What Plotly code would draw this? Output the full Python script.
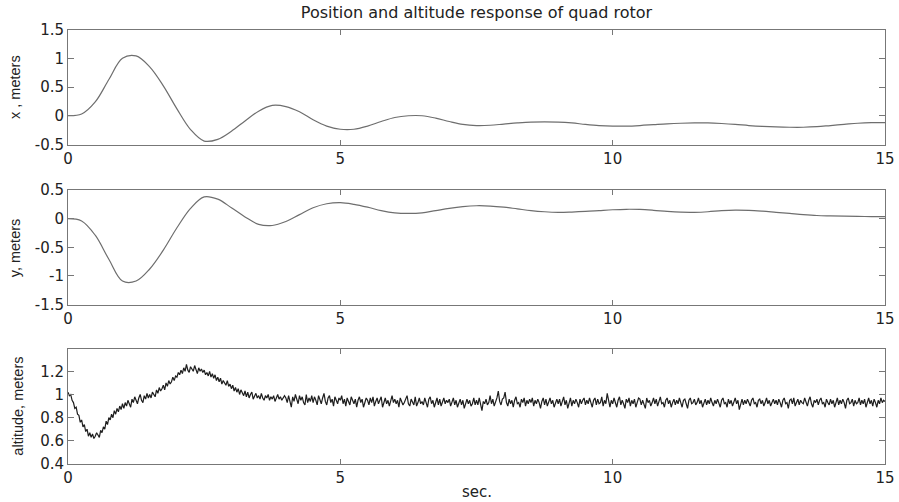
import plotly.graph_objects as go

# ---------------- data ----------------
t_smooth = [i * 0.25 for i in range(61)]

x_pos = [0.00, 0.03, 0.24, 0.63, 1.00, 1.04, 0.85, 0.52, 0.12, -0.24,
         -0.44, -0.41, -0.27, -0.09, 0.08, 0.18, 0.16, 0.07, -0.07, -0.18,
         -0.235, -0.235, -0.18, -0.10, -0.03, 0.00, 0.00, -0.04, -0.10, -0.15,
         -0.17, -0.165, -0.145, -0.125, -0.11, -0.105, -0.11, -0.125, -0.15, -0.17,
         -0.18, -0.18, -0.17, -0.155, -0.14, -0.13, -0.125, -0.125, -0.135, -0.15,
         -0.17, -0.185, -0.195, -0.20, -0.20, -0.19, -0.17, -0.15, -0.13, -0.12,
         -0.12]

y_pos = [0.00, -0.04, -0.29, -0.71, -1.09, -1.09, -0.88, -0.55, -0.16, 0.18,
         0.38, 0.34, 0.19, 0.03, -0.10, -0.12, -0.05, 0.07, 0.19, 0.26,
         0.28, 0.25, 0.20, 0.14, 0.10, 0.09, 0.10, 0.14, 0.18, 0.21,
         0.225, 0.22, 0.20, 0.17, 0.14, 0.12, 0.11, 0.115, 0.125, 0.14,
         0.155, 0.163, 0.16, 0.145, 0.125, 0.112, 0.11, 0.12, 0.14, 0.15,
         0.145, 0.13, 0.11, 0.09, 0.07, 0.055, 0.048, 0.042, 0.038, 0.036,
         0.035]

altitude = [
    1.02, 0.99, 1.00, 0.95, 0.93, 0.88, 0.89, 0.83, 0.82, 0.76, 0.78, 0.72, 0.74, 0.68, 0.70, 0.64, 0.67, 0.63, 0.66, 0.62,
    0.64, 0.67, 0.65, 0.63, 0.69, 0.67, 0.72, 0.70, 0.77, 0.74, 0.80, 0.78, 0.83, 0.80, 0.86, 0.83, 0.88, 0.85, 0.90, 0.87,
    0.92, 0.88, 0.93, 0.90, 0.95, 0.91, 0.89, 0.96, 0.93, 0.98, 0.94, 0.92, 0.97, 1.00, 0.95, 0.93, 0.99, 0.96, 1.01, 0.97,
    1.00, 0.97, 1.02, 1.00, 0.98, 1.04, 1.01, 1.06, 1.03, 1.05, 1.08, 1.04, 1.10, 1.07, 1.12, 1.09, 1.11, 1.15, 1.12, 1.16,
    1.15, 1.19, 1.17, 1.21, 1.18, 1.23, 1.20, 1.26, 1.21, 1.19, 1.24, 1.22, 1.20, 1.25, 1.21, 1.18, 1.23, 1.20, 1.22, 1.19,
    1.21, 1.17, 1.19, 1.16, 1.20, 1.15, 1.18, 1.14, 1.17, 1.12, 1.15, 1.11, 1.14, 1.09, 1.12, 1.10, 1.08, 1.12, 1.07, 1.09,
    1.05, 1.08, 1.03, 1.06, 1.02, 1.05, 1.00, 1.04, 1.01, 0.99, 1.03, 0.98, 1.02, 0.97, 1.00, 1.02, 0.96, 0.99, 1.01, 0.97,
    0.99, 0.96, 1.01, 0.97, 0.95, 0.99, 0.97, 1.00, 0.95, 0.98, 0.96, 0.99, 0.94, 0.97, 1.00, 0.96, 0.98, 0.95, 0.97, 0.99,
    0.97, 0.93, 0.99, 0.95, 0.89, 0.98, 0.94, 1.00, 0.96, 0.92, 0.99, 0.95, 0.98, 0.93, 0.91, 1.00, 0.93, 0.97, 0.94, 0.99,
    0.93, 0.98, 0.95, 0.91, 0.99, 0.96, 0.92, 0.97, 1.01, 0.94, 0.91, 0.97, 0.99, 0.93, 0.96, 0.90, 0.98, 0.95, 0.92, 0.97,
    0.95, 0.99, 0.92, 0.96, 0.90, 0.97, 0.93, 0.91, 0.98, 0.94, 0.92, 0.96, 0.89, 0.95, 0.98, 0.93, 0.96, 0.89, 0.94, 0.97,
    0.95, 0.91, 0.97, 0.93, 0.98, 0.90, 0.94, 0.97, 0.92, 0.96, 0.98, 0.89, 0.94, 0.97, 0.92, 0.95, 0.90, 0.94, 0.99, 0.93,
    0.96, 0.92, 0.95, 0.89, 0.97, 0.94, 0.91, 0.93, 0.97, 0.99, 0.92, 0.90, 0.96, 0.94, 0.91, 0.98, 0.90, 0.93, 0.97, 0.92,
    0.94, 0.91, 0.97, 0.93, 0.89, 0.96, 0.98, 0.92, 0.95, 0.89, 0.94, 0.97, 0.91, 0.96, 0.90, 0.94, 0.97, 0.92, 0.95, 0.93,
    0.96, 0.90, 0.93, 0.97, 0.91, 0.95, 0.89, 0.93, 0.96, 0.91, 0.95, 0.88, 0.93, 0.96, 0.92, 0.95, 0.90, 0.92, 0.97, 0.91,
    0.95, 0.91, 0.97, 0.92, 0.86, 0.94, 0.92, 0.96, 0.91, 0.93, 0.99, 0.92, 0.96, 0.90, 0.93, 0.97, 1.03, 0.94, 0.91, 0.96,
    0.97, 1.02, 0.93, 0.90, 0.96, 0.92, 0.95, 0.89, 0.95, 0.98, 0.92, 0.93, 0.89, 0.96, 0.93, 0.97, 0.90, 0.95, 0.92, 0.96,
    0.93, 0.97, 0.90, 0.95, 0.92, 0.96, 0.93, 0.88, 0.94, 0.97, 0.91, 0.96, 0.90, 0.93, 0.97, 0.92, 0.95, 0.89, 0.93, 0.96,
    0.92, 0.96, 0.90, 0.94, 0.98, 0.91, 0.95, 0.88, 0.93, 0.97, 0.90, 0.95, 0.92, 0.96, 0.93, 0.89, 0.96, 0.92, 0.95, 0.97,
    0.91, 0.95, 0.92, 0.97, 0.93, 0.89, 0.95, 0.97, 0.91, 0.96, 0.92, 0.93, 0.98, 0.90, 0.95, 0.92, 1.01, 0.93, 0.89, 0.95,
    0.92, 0.97, 0.93, 0.89, 0.95, 0.98, 0.91, 0.95, 0.92, 0.88, 0.96, 0.93, 0.97, 0.90, 0.95, 0.92, 0.96, 0.89, 0.93, 0.97,
    0.96, 0.91, 0.95, 0.92, 0.88, 0.97, 0.93, 0.95, 0.90, 0.93, 0.97, 0.92, 0.96, 0.90, 0.95, 0.98, 0.92, 0.93, 0.89, 0.95,
    0.97, 0.92, 0.95, 0.89, 0.93, 0.96, 0.91, 0.95, 0.92, 0.97, 0.93, 0.89, 0.95, 0.96, 0.92, 0.88, 0.95, 0.97, 0.92, 0.93,
    0.96, 0.91, 0.93, 0.97, 0.92, 0.95, 0.89, 0.93, 0.96, 0.91, 0.95, 0.92, 0.97, 0.93, 0.90, 0.95, 0.92, 0.96, 0.93, 0.89,
    0.95, 0.97, 0.92, 0.93, 0.89, 0.96, 0.92, 0.95, 0.90, 0.93, 0.97, 0.92, 0.95, 0.87, 0.93, 0.96, 0.91, 0.95, 0.92, 0.96,
    0.93, 0.90, 0.95, 0.97, 0.92, 0.93, 0.89, 0.95, 0.96, 0.92, 0.95, 0.90, 0.93, 0.97, 0.92, 0.95, 0.90, 0.93, 0.96, 0.92,
    0.95, 0.91, 0.96, 0.93, 0.89, 0.95, 0.97, 0.92, 0.93, 0.88, 0.95, 0.96, 0.92, 0.97, 0.90, 0.93, 0.96, 0.91, 0.95, 0.93,
    0.92, 0.97, 0.93, 0.90, 0.95, 0.98, 0.92, 0.89, 0.95, 0.93, 0.96, 0.91, 0.95, 0.97, 0.92, 0.93, 0.89, 0.96, 0.93, 0.91,
    0.96, 0.92, 0.95, 0.89, 0.93, 0.97, 0.91, 0.95, 0.92, 0.96, 0.93, 0.88, 0.95, 0.97, 0.92, 0.93, 0.96, 0.90, 0.95, 0.92,
    0.93, 0.97, 0.91, 0.95, 0.92, 0.96, 0.89, 0.93, 0.97, 0.92, 0.95, 0.90, 0.96, 0.93, 0.89, 0.95, 0.92, 0.97, 0.93, 0.95,
    0.94,
]
t_alt = [15.0 * i / (len(altitude) - 1) for i in range(len(altitude))]

x_ticks = [0, 5, 10, 15]
x_tick_labels = ["0", "5", "10", "15"]
y1_ticks = [-0.5, 0, 0.5, 1, 1.5]
y1_labels = ["-0.5", "0", "0.5", "1", "1.5"]
y2_ticks = [-1.5, -1, -0.5, 0, 0.5]
y2_labels = ["-1.5", "-1", "-0.5", "0", "0.5"]
y3_ticks = [0.4, 0.6, 0.8, 1.0, 1.2]
y3_labels = ["0.4", "0.6", "0.8", "1", "1.2"]

# ---------------- figure ----------------
W, H = 899, 502
ML, MR, MT, MB = 68, 14, 29, 38
PH = H - MT - MB
PW = W - ML - MR


def py(p):  # pixel row -> paper y
    return min(1.0, max(0.0, (H - MB - p) / PH))


def px(p):  # pixel column -> paper x
    return (p - ML) / PW


tick_font = dict(family="DejaVu Sans", size=15, color="#222")
frame = "#777777"


def xaxis(anchor):
    return dict(range=[0, 15], tickvals=x_ticks, ticktext=x_tick_labels,
                showline=True, linecolor=frame, linewidth=1, mirror="ticks",
                ticks="inside", ticklen=5, tickcolor=frame, tickwidth=1,
                showgrid=False, zeroline=False, tickfont=tick_font,
                anchor=anchor, domain=[0, 1], automargin=False)


def yaxis(rng, tv, tt, dom):
    return dict(range=rng, tickvals=tv, ticktext=tt,
                showline=True, linecolor=frame, linewidth=1, mirror="ticks",
                ticks="inside", ticklen=6, tickcolor=frame, tickwidth=1,
                showgrid=False, zeroline=False, tickfont=tick_font,
                domain=dom, automargin=False)


fig = go.Figure()
fig.add_trace(go.Scatter(x=t_smooth, y=x_pos, mode="lines", line=dict(color="#6e6e6e", width=1.2, shape="spline"),
                         xaxis="x", yaxis="y", showlegend=False))
fig.add_trace(go.Scatter(x=t_smooth, y=y_pos, mode="lines", line=dict(color="#6e6e6e", width=1.2, shape="spline"),
                         xaxis="x2", yaxis="y2", showlegend=False))
fig.add_trace(go.Scatter(x=t_alt, y=altitude, mode="lines", line=dict(color="#1e1e1e", width=1.2),
                         xaxis="x3", yaxis="y3", showlegend=False))

ylab_font = dict(family="Liberation Sans", size=14.5, color="#222")
annotations = [
    dict(text="x , meters", xref="paper", yref="paper", x=px(15), y=(py(29.5) + py(144.5)) / 2,
         textangle=-90, showarrow=False, font=ylab_font, xanchor="center", yanchor="middle"),
    dict(text="y, meters", xref="paper", yref="paper", x=px(15), y=(py(190) + py(304.5)) / 2,
         textangle=-90, showarrow=False, font=ylab_font, xanchor="center", yanchor="middle"),
    dict(text="altitude, meters", xref="paper", yref="paper", x=px(18), y=(py(349.3) + py(464)) / 2,
         textangle=-90, showarrow=False, font=ylab_font, xanchor="center", yanchor="middle"),
    dict(text="sec.", xref="paper", yref="paper", x=0.5, y=(H - MB - 492) / PH,
         showarrow=False, font=dict(family="DejaVu Sans", size=15, color="#222"),
         xanchor="center", yanchor="middle"),
]

fig.update_layout(
    width=W, height=H,
    margin=dict(l=ML, r=MR, t=MT, b=MB, autoexpand=False),
    paper_bgcolor="white", plot_bgcolor="white",
    title=dict(text="Position and altitude response of quad rotor", x=0.5, xref="paper",
               y=1 - 12 / H, yref="container", xanchor="center", yanchor="middle",
               font=dict(family="DejaVu Sans", size=16, color="#222"), automargin=False),
    xaxis=xaxis("y"), xaxis2=xaxis("y2"), xaxis3=xaxis("y3"),
    yaxis=yaxis([-0.5, 1.5], y1_ticks, y1_labels, [py(144.5), py(29.5)]),
    yaxis2=yaxis([-1.5, 0.5], y2_ticks, y2_labels, [py(304.5), py(190)]),
    yaxis3=yaxis([0.4, 1.39], y3_ticks, y3_labels, [py(464), py(349.3)]),
    annotations=annotations,
    showlegend=False,
)

# the page's default 8px body margin would shift the figure; remove it
fig.write_html("out.html",
               config={"displayModeBar": False},
               post_script="document.body.style.margin='0px';document.body.style.padding='0px';"
                           "document.body.style.overflow='hidden';")
